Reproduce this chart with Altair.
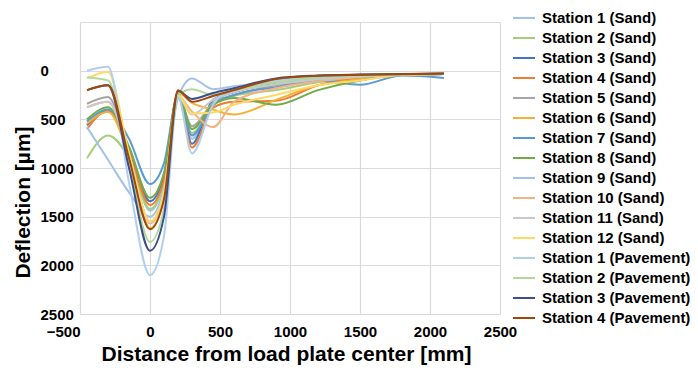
import altair as alt
import pandas as pd

# Distance from load plate center [mm]
X = [-450, -300, -150, 0, 100, 200, 300, 450, 600, 900, 1200, 1500, 1800, 2100]

# Deflection [µm] per station
s1_sand  = [520, 420, 820, 1440, 1150, 250, 700, 330, 220, 140, 90, 60, 42, 35]
s2_sand  = [900, 665, 900, 1420, 1150, 280, 640, 360, 260, 200, 120, 70, 45, 35]
s3_sand  = [560, 420, 800, 1341, 1080, 240, 750, 300, 220, 130, 80, 55, 40, 35]
s4_sand  = [600, 410, 820, 1380, 1120, 250, 790, 380, 320, 310, 150, 70, 42, 35]
s5_sand  = [340, 270, 850, 1560, 1250, 250, 570, 330, 250, 150, 90, 60, 42, 35]
s6_sand  = [545, 425, 880, 1620, 1300, 230, 330, 400, 450, 300, 150, 90, 45, 35]
s7_sand  = [520, 400, 700, 1165, 950, 250, 665, 350, 250, 170, 100, 145, 50, 75]
s8_sand  = [500, 375, 780, 1306, 1050, 240, 600, 350, 280, 350, 200, 100, 45, 35]
s9_sand  = [580, 915, 1250, 1500, 1200, 280, 80, 190, 160, 120, 80, 55, 40, 35]
s10_sand = [375, 320, 870, 1570, 1260, 260, 420, 580, 320, 180, 110, 65, 42, 35]
s11_sand = [380, 320, 860, 1560, 1250, 270, 450, 300, 220, 140, 90, 60, 42, 35]
s12_sand = [80, 10, 850, 1550, 1250, 250, 440, 430, 350, 250, 150, 100, 45, 35]
s1_pav   = [0, -40, 1150, 2100, 1700, 270, 850, 350, 180, 100, 70, 50, 38, 32]
s2_pav   = [70, 100, 960, 1760, 1420, 250, 190, 250, 200, 120, 70, 50, 38, 32]
s3_pav   = [200, 150, 1000, 1850, 1500, 210, 290, 230, 180, 80, 50, 40, 35, 30]
s4_pav   = [200, 150, 900, 1630, 1320, 200, 320, 260, 200, 85, 52, 42, 36, 30]

names = [
    "Station 1 (Sand)", "Station 2 (Sand)", "Station 3 (Sand)", "Station 4 (Sand)",
    "Station 5 (Sand)", "Station 6 (Sand)", "Station 7 (Sand)", "Station 8 (Sand)",
    "Station 9 (Sand)", "Station 10 (Sand)", "Station 11 (Sand)", "Station 12 (Sand)",
    "Station 1 (Pavement)", "Station 2 (Pavement)", "Station 3 (Pavement)", "Station 4 (Pavement)",
]
series = [s1_sand, s2_sand, s3_sand, s4_sand, s5_sand, s6_sand, s7_sand, s8_sand,
          s9_sand, s10_sand, s11_sand, s12_sand, s1_pav, s2_pav, s3_pav, s4_pav]
colors = ["#9DC3E6", "#A3CF78", "#4472C4", "#ED7D31", "#A5A5A5", "#F2B134", "#5B9BD5", "#70AD47",
          "#A4C2E8", "#F4B183", "#C9C9C9", "#FFD966", "#B0CFEF", "#B4D89C", "#3D4E8A", "#9E480E"]

rows = []
for i, (n, vals) in enumerate(zip(names, series)):
    for x, v in zip(X, vals):
        rows.append({"station": n, "order": i, "x": x, "y": v})
df = pd.DataFrame(rows)

FONT = "Liberation Sans"
TICKS = [-500, 0, 500, 1000, 1500, 2000, 2500]

chart = alt.Chart(df).mark_line(interpolate="monotone", strokeWidth=2).encode(
    x=alt.X("x:Q", scale=alt.Scale(domain=[-500, 2500], nice=False),
            axis=alt.Axis(values=TICKS, format="d",
                          title="Distance from load plate center [mm]",
                          titleX=206, titleY=46, titleBaseline="alphabetic",
                          labelPadding=10, labelFontSize=15,
                          labelAlign={"condition": {"test": "datum.value < 0", "value": "right"},
                                      "value": "center"},
                          labelFlush=False, labelOverlap=False, labelBound=False)),
    y=alt.Y("y:Q", scale=alt.Scale(domain=[-500, 2500], nice=False, reverse=True),
            axis=alt.Axis(values=TICKS, format="d",
                          labelExpr="datum.value < 0 ? '' : datum.label",
                          labelAlign="left", labelPadding=40, labelFontSize=15,
                          labelFlush=False, labelOverlap=False,
                          title="Deflection [µm]", titleX=-57, titleY=180,
                          titleAngle=-90, titleBaseline="middle")),
    color=alt.Color("station:N", sort=names,
                    scale=alt.Scale(domain=names, range=colors),
                    legend=alt.Legend(title=None, orient="none", legendX=432, legendY=-16,
                                      symbolType="stroke", symbolSize=484, symbolStrokeWidth=2,
                                      rowPadding=-3, padding=0, labelOffset=6,
                                      labelFontSize=15, labelFont=FONT, labelFontWeight="bold",
                                      labelColor="#000000", labelLimit=300)),
    order=alt.Order("order:Q"),
    detail="station:N",
).properties(
    width=420, height=292,
    autosize=alt.AutoSizeParams(type="none"),
    padding={"left": 72, "top": 14, "right": 190, "bottom": 52},
).configure_view(stroke=None).configure_axis(
    domain=False, ticks=False, tickSize=0, grid=True, gridColor="#DADADA", gridWidth=1.2,
    labelFont=FONT, labelFontWeight="bold", labelColor="#000000",
    titleFont=FONT, titleFontWeight="bold", titleFontSize=21, titleColor="#000000",
)

chart.save("out.html", embed_options={"renderer": "svg", "actions": False})
